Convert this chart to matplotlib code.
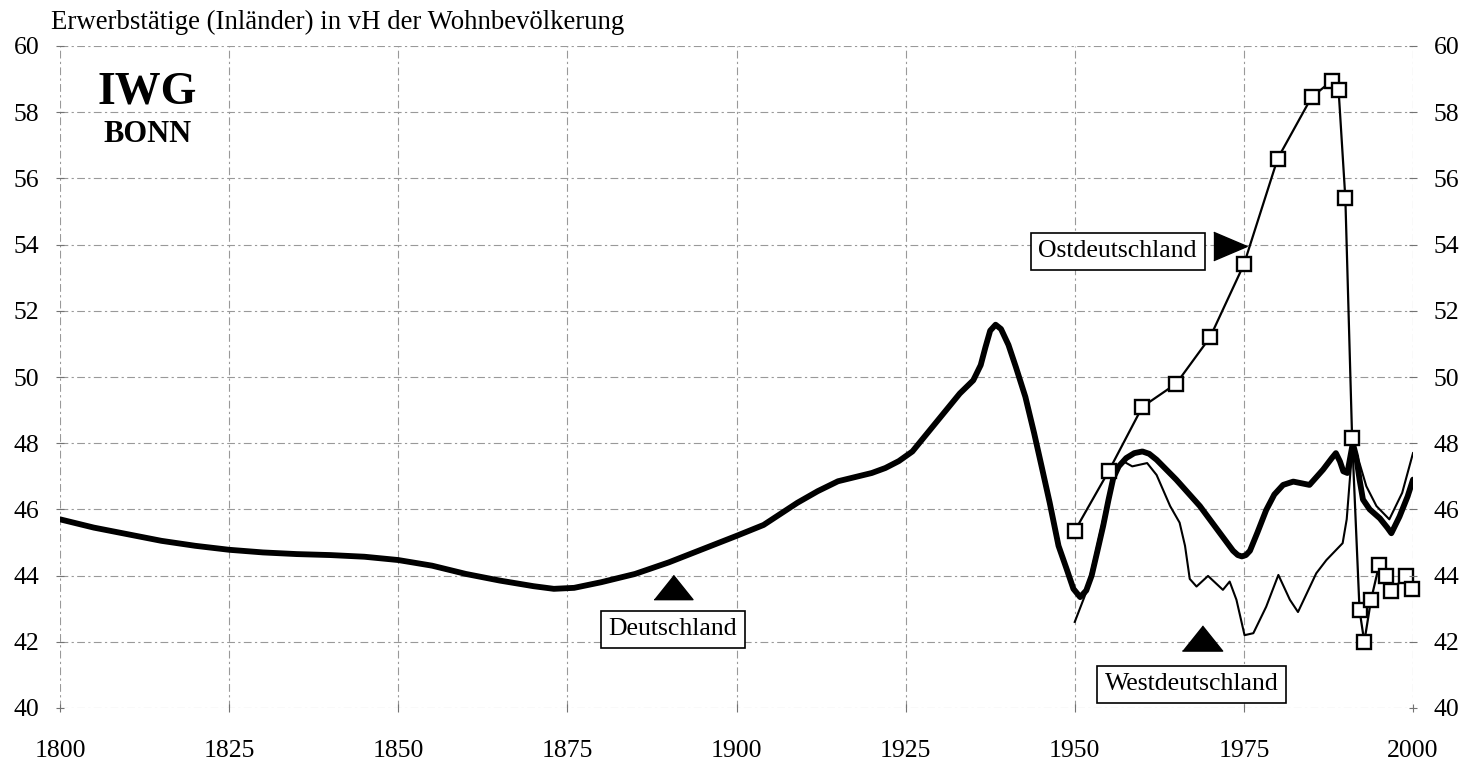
import matplotlib
matplotlib.use('Agg')
import matplotlib.pyplot as plt

''' Erwerbstaetige in vH der Wohnbevoelkerung, 1800 - 2000
    Deutschland (thick), Westdeutschland (thin), Ostdeutschland (squares)
'''

deutschland_years = [1800, 1805, 1810, 1815, 1820, 1825, 1830, 1835, 1840, 1845, 1850, 1855,
                     1860, 1865, 1870, 1873, 1876, 1880, 1885, 1890, 1895, 1900, 1904, 1909,
                     1912, 1915, 1918, 1920, 1922, 1924, 1926, 1929, 1933, 1935, 1936.1, 1936.8,
                     1937.5, 1938.3, 1939.1, 1940.2, 1941.3, 1942.7, 1944, 1945.1, 1946.3,
                     1947.6, 1948.8, 1949.8, 1950.8, 1951.7, 1952.5, 1953.3, 1954.2, 1955,
                     1955.7, 1956.5, 1957.6, 1958.8, 1960, 1961, 1962.1, 1965, 1968.5, 1971.4,
                     1973.4, 1974.1, 1974.7, 1975.3, 1975.9, 1977, 1978.3, 1979.5, 1980.8,
                     1982.3, 1984.7, 1986.7, 1988, 1988.6, 1989.2, 1989.7, 1990.3, 1991.1,
                     1991.6, 1992.1, 1992.6, 1993.6, 1995.1, 1996.2, 1996.8, 1998, 1999.2, 2000]
deutschland_values = [45.7, 45.45, 45.25, 45.05, 44.9, 44.78, 44.7, 44.65, 44.62, 44.57, 44.47, 44.3,
                      44.05, 43.85, 43.68, 43.6, 43.63, 43.8, 44.05, 44.4, 44.8, 45.2, 45.53, 46.2,
                      46.55, 46.85, 47.0, 47.1, 47.25, 47.46, 47.75, 48.5, 49.5, 49.9, 50.36, 50.9,
                      51.4, 51.58, 51.45, 50.97, 50.3, 49.4, 48.3, 47.3, 46.2,
                      44.9, 44.2, 43.6, 43.35, 43.55, 44.0, 44.7, 45.5, 46.3,
                      46.95, 47.3, 47.55, 47.7, 47.75, 47.68, 47.5, 46.9, 46.1, 45.3,
                      44.75, 44.62, 44.58, 44.62, 44.75, 45.3, 45.98, 46.45, 46.74,
                      46.84, 46.74, 47.2, 47.55, 47.7, 47.45, 47.15, 47.1, 48.0,
                      47.6, 46.9, 46.3, 46.0, 45.73, 45.45, 45.28, 45.78, 46.39, 46.9]

west_years = [1950, 1951.7, 1953, 1954.2, 1955.7, 1957.2, 1958.5, 1960.7, 1962.1, 1964.1,
              1965.5, 1966.3, 1967, 1968, 1969.7, 1971.9, 1972.9, 1973.9, 1975.1, 1976.4,
              1978.3, 1980.1, 1981.8, 1983, 1985.7, 1987.2, 1989.6, 1990.2, 1990.7, 1991.1,
              1991.8, 1993.1, 1994.6, 1996.5, 1998.4, 2000]
west_values = [42.6, 43.5, 44.6, 45.7, 47.0, 47.45, 47.3, 47.4, 47.04, 46.1,
               45.6, 44.9, 43.9, 43.67, 43.99, 43.57, 43.82, 43.27, 42.2, 42.26,
               43.06, 44.02, 43.27, 42.9, 44.07, 44.47, 44.98, 45.7, 47.0, 48.0,
               47.6, 46.7, 46.1, 45.7, 46.5, 47.7]

ost_years = [1950, 1955, 1960, 1965, 1970, 1975, 1980, 1985, 1988, 1989, 1990, 1991,
             1992.1, 1992.8, 1993.8, 1995, 1996, 1996.8, 1998.9, 1999.9]
ost_values = [45.35, 47.15, 49.1, 49.8, 51.2, 53.4, 56.6, 58.45, 58.95, 58.67, 55.4, 48.15,
              42.95, 42.0, 43.27, 44.33, 44.0, 43.52, 44.0, 43.6]

x_ticks = [1800, 1825, 1850, 1875, 1900, 1925, 1950, 1975, 2000]
y_ticks = [40, 42, 44, 46, 48, 50, 52, 54, 56, 58, 60]

title = 'Erwerbstätige (Inländer) in vH der Wohnbevölkerung'
labels = ['Deutschland', 'Westdeutschland', 'Ostdeutschland']

FONT = 'Liberation Serif'


def style_axis(ax):
    ax.set_xlim(1800, 2000)
    ax.set_ylim(40, 60)
    ax.set_yticks(y_ticks)
    for side in ['top', 'bottom', 'left', 'right']:
        ax.spines[side].set_visible(False)
    ax.tick_params(axis='both', labelsize=18.5, length=6, width=0.8,
                   color='0.45', direction='inout')
    ax.tick_params(axis='y', pad=12)
    for lab in ax.get_yticklabels():
        lab.set_fontfamily(FONT)


def main():
    fig = plt.figure(figsize=(14.66, 7.62), dpi=100)
    ax = fig.add_axes([60 / 1466, 1 - 708 / 762, (1413 - 60) / 1466, (708 - 46) / 762])

    ax.grid(True, color='0.6', linewidth=0.8, linestyle=(0, (7, 3, 2, 3)))
    ax.set_xticks(x_ticks)

    ax.plot(deutschland_years, deutschland_values, color='black', linewidth=4.2,
            solid_capstyle='round', solid_joinstyle='round', zorder=3)
    ax.plot(west_years, west_values, color='black', linewidth=1.5,
            solid_joinstyle='round', zorder=4)
    ax.plot(ost_years, ost_values, color='black', linewidth=1.6, marker='s',
            markersize=10, markerfacecolor='white', markeredgecolor='black',
            markeredgewidth=1.7, zorder=5, clip_on=False)

    style_axis(ax)
    ax.tick_params(axis='x', pad=20)
    for lab in ax.get_xticklabels():
        lab.set_fontfamily(FONT)

    ax2 = ax.twinx()
    style_axis(ax2)

    # pointer triangles and label boxes
    up_tri = [(-1.6, -1), (1.6, -1), (0, 1)]
    right_tri = [(-1, -0.85), (1, 0), (-1, 0.85)]
    ax.plot([1890.6], [43.67], marker=up_tri, markersize=28, color='black', zorder=6)
    ax.plot([1968.8], [42.1], marker=up_tri, markersize=29, color='black', zorder=6)
    ax.plot([1973.0], [53.95], marker=right_tri, markersize=24, color='black', zorder=6)

    box = dict(boxstyle='square,pad=0.3', facecolor='white', edgecolor='black', linewidth=1.2)
    ax.text(1890.6, 42.38, labels[0], ha='center', va='center', fontsize=18.5,
            family=FONT, bbox=box, zorder=7)
    ax.text(1967.25, 40.71, labels[1], ha='center', va='center', fontsize=18.5,
            family=FONT, bbox=box, zorder=7)
    ax.text(1956.35, 53.8, labels[2], ha='center', va='center', fontsize=18.5,
            family=FONT, bbox=box, zorder=7)

    fig.text(51 / 1466, 1 - 22 / 762, title, ha='left', va='center', fontsize=19.3, family=FONT)
    fig.text(147 / 1466, 1 - 93 / 762, 'IWG', ha='center', va='center', fontsize=33,
             fontweight='bold', family=FONT)
    fig.text(147 / 1466, 1 - 135 / 762, 'BONN', ha='center', va='center', fontsize=22,
             fontweight='bold', family=FONT)

    fig.savefig('out.png', dpi=100)
    plt.close('all')


if __name__ == "__main__":
    main()
